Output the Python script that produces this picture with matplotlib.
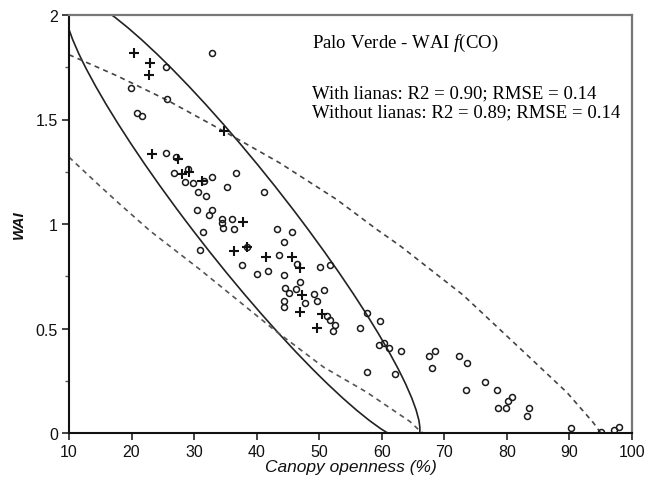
import numpy as np
import matplotlib
matplotlib.use("Agg")
import matplotlib.pyplot as plt
import matplotlib.patches as mpatches
import matplotlib.transforms as mtransforms
from matplotlib.ticker import MultipleLocator, FuncFormatter

# ---------------- data ----------------
circle_x = [32.8, 25.5, 19.9, 25.6, 20.9, 21.7, 25.5, 27.1, 29.1, 26.8, 28.6, 29.8, 31.6, 32.8,
            36.7, 35.3, 30.7, 31.9, 41.1, 30.5, 32.8, 32.4, 34.4, 34.5, 36.1, 34.6, 36.3, 31.4,
            30.9, 38.4, 37.6, 40.0, 41.8, 43.2, 45.7, 44.4, 43.6, 46.5, 50.1, 51.8, 44.4, 47.0,
            44.5, 45.1, 46.3, 49.2, 50.8, 44.4, 44.4, 47.8, 49.6, 51.2, 51.8, 52.6, 52.2, 57.7,
            59.7, 56.5, 59.5, 60.3, 61.1, 63.1, 57.7, 62.1, 67.6, 68.5, 68.1, 72.4, 73.6, 73.4,
            76.5, 78.4, 80.1, 80.8, 78.6, 79.8, 83.5, 83.2, 90.2, 95.0, 97.2, 98.0]
circle_y = [1.820, 1.753, 1.649, 1.596, 1.530, 1.519, 1.340, 1.321, 1.265, 1.244, 1.201, 1.197, 1.204, 1.224,
            1.244, 1.176, 1.155, 1.136, 1.155, 1.066, 1.066, 1.045, 1.025, 1.007, 1.026, 0.982, 0.977, 0.963,
            0.874, 0.890, 0.803, 0.761, 0.777, 0.977, 0.963, 0.915, 0.851, 0.810, 0.796, 0.804, 0.754, 0.722,
            0.693, 0.670, 0.687, 0.666, 0.686, 0.632, 0.605, 0.624, 0.632, 0.560, 0.541, 0.515, 0.486, 0.576,
            0.535, 0.501, 0.423, 0.429, 0.409, 0.390, 0.290, 0.282, 0.369, 0.390, 0.309, 0.369, 0.336, 0.205,
            0.242, 0.205, 0.151, 0.173, 0.118, 0.118, 0.118, 0.083, 0.022, 0.003, 0.014, 0.027]

plus_x = [20.4, 23.0, 22.8, 34.8, 23.3, 27.5, 28.0, 29.2, 31.3, 37.8, 36.4, 38.4, 41.5, 45.6,
          47.0, 47.2, 47.0, 50.4, 49.6]
plus_y = [1.817, 1.769, 1.714, 1.443, 1.337, 1.310, 1.241, 1.247, 1.204, 1.009, 0.869, 0.890, 0.842, 0.840,
          0.791, 0.660, 0.580, 0.568, 0.501]

upper_band_x = [10.0, 17.6, 25.6, 34.8, 43.7, 52.8, 59.2, 63.0, 73.0, 83.7, 89.6, 93.8, 95.0]
upper_band_y = [1.81, 1.71, 1.594, 1.443, 1.292, 1.117, 0.974, 0.894, 0.66, 0.36, 0.194, 0.05, 0.0]

lower_band_x = [10.0, 15.0, 18.2, 23.0, 30.9, 42.7, 50.7, 57.6, 60.8, 64.5, 66.1, 66.6]
lower_band_y = [1.32, 1.180, 1.093, 0.966, 0.783, 0.496, 0.315, 0.195, 0.130, 0.055, 0.010, 0.0]

# confidence ellipse: centre and two conjugate semi-diameter vectors (data units)
ellipse_center = (37.7, 1.024)
ellipse_axis_a = (26.84, -1.0659)
ellipse_axis_b = (9.27, 0.0)

x_ticks = [10, 20, 30, 40, 50, 60, 70, 80, 90, 100]
y_ticks = [0, 0.5, 1, 1.5, 2]

title_text = "Palo Verde - WAI $f$(CO)"
stat_lines = ["With lianas: R2 = 0.90; RMSE = 0.14",
              "Without lianas: R2 = 0.89; RMSE = 0.14"]

# ---------------- styling ----------------
plt.rcParams['mathtext.fontset'] = 'custom'
plt.rcParams['mathtext.rm'] = 'Liberation Serif'
plt.rcParams['mathtext.it'] = 'Liberation Serif:italic'

fig = plt.figure(figsize=(6.46, 4.85), dpi=100)
ax = fig.add_axes([69/646, 51/485, (632-69)/646, (434-16)/485])

# ellipse
aff = mtransforms.Affine2D(np.array([[ellipse_axis_a[0], ellipse_axis_b[0], ellipse_center[0]],
                                     [ellipse_axis_a[1], ellipse_axis_b[1], ellipse_center[1]],
                                     [0, 0, 1]]))
circ = mpatches.Circle((0, 0), 1.0, fill=False, edgecolor='#222222', linewidth=1.2,
                       transform=aff + ax.transData)
ax.add_patch(circ)

# prediction bands
ax.plot(upper_band_x, upper_band_y, color='#444444', lw=1.2, dashes=(3, 2.6))
ax.plot(lower_band_x, lower_band_y, color='#555555', lw=1.2, dashes=(3, 2.6))

# points
ax.plot(circle_x, circle_y, linestyle='none', marker='o', ms=4.3, mfc='none',
        mec='#1a1a1a', mew=1.1)
ax.plot(plus_x, plus_y, linestyle='none', marker='+', ms=7, mec='#111111', mew=1.5)

ax.set_xlim(10, 100)
ax.set_ylim(0, 2)
ax.set_xticks(x_ticks)
ax.set_yticks(y_ticks)
ax.yaxis.set_minor_locator(MultipleLocator(0.25))
ax.yaxis.set_major_formatter(FuncFormatter(lambda v, p: f"{v:g}"))

for lab in ax.get_xticklabels() + ax.get_yticklabels():
    lab.set_fontfamily('Liberation Sans')
    lab.set_fontsize(11.5)
    lab.set_color('#111111')
ax.tick_params(axis='both', which='major', direction='out', length=5, width=1.2, pad=3, color='#222222')
ax.tick_params(axis='y', which='minor', direction='out', length=3, width=1.0, color='#555555')

for s in ['left', 'bottom']:
    ax.spines[s].set_linewidth(1.5)
    ax.spines[s].set_color('#111111')
for s in ['top', 'right']:
    ax.spines[s].set_linewidth(1.6)
    ax.spines[s].set_color('#777777')

ax.set_xlabel("Canopy openness (%)", fontfamily='Liberation Sans', fontstyle='italic',
              fontsize=12.5, labelpad=0, color='#111111')
ax.set_ylabel("WAI", fontfamily='Liberation Sans', fontstyle='italic', fontsize=11,
              fontweight='bold', labelpad=7, color='#111111')

ax.text(48.8, 1.871, title_text, fontfamily='Liberation Serif', fontsize=13.5,
        ha='left', va='center')
ax.text(48.8, 1.628, stat_lines[0], fontfamily='Liberation Serif', fontsize=13.5,
        ha='left', va='center')
ax.text(48.8, 1.537, stat_lines[1], fontfamily='Liberation Serif', fontsize=13.5,
        ha='left', va='center')

fig.savefig("out.png", dpi=100)
